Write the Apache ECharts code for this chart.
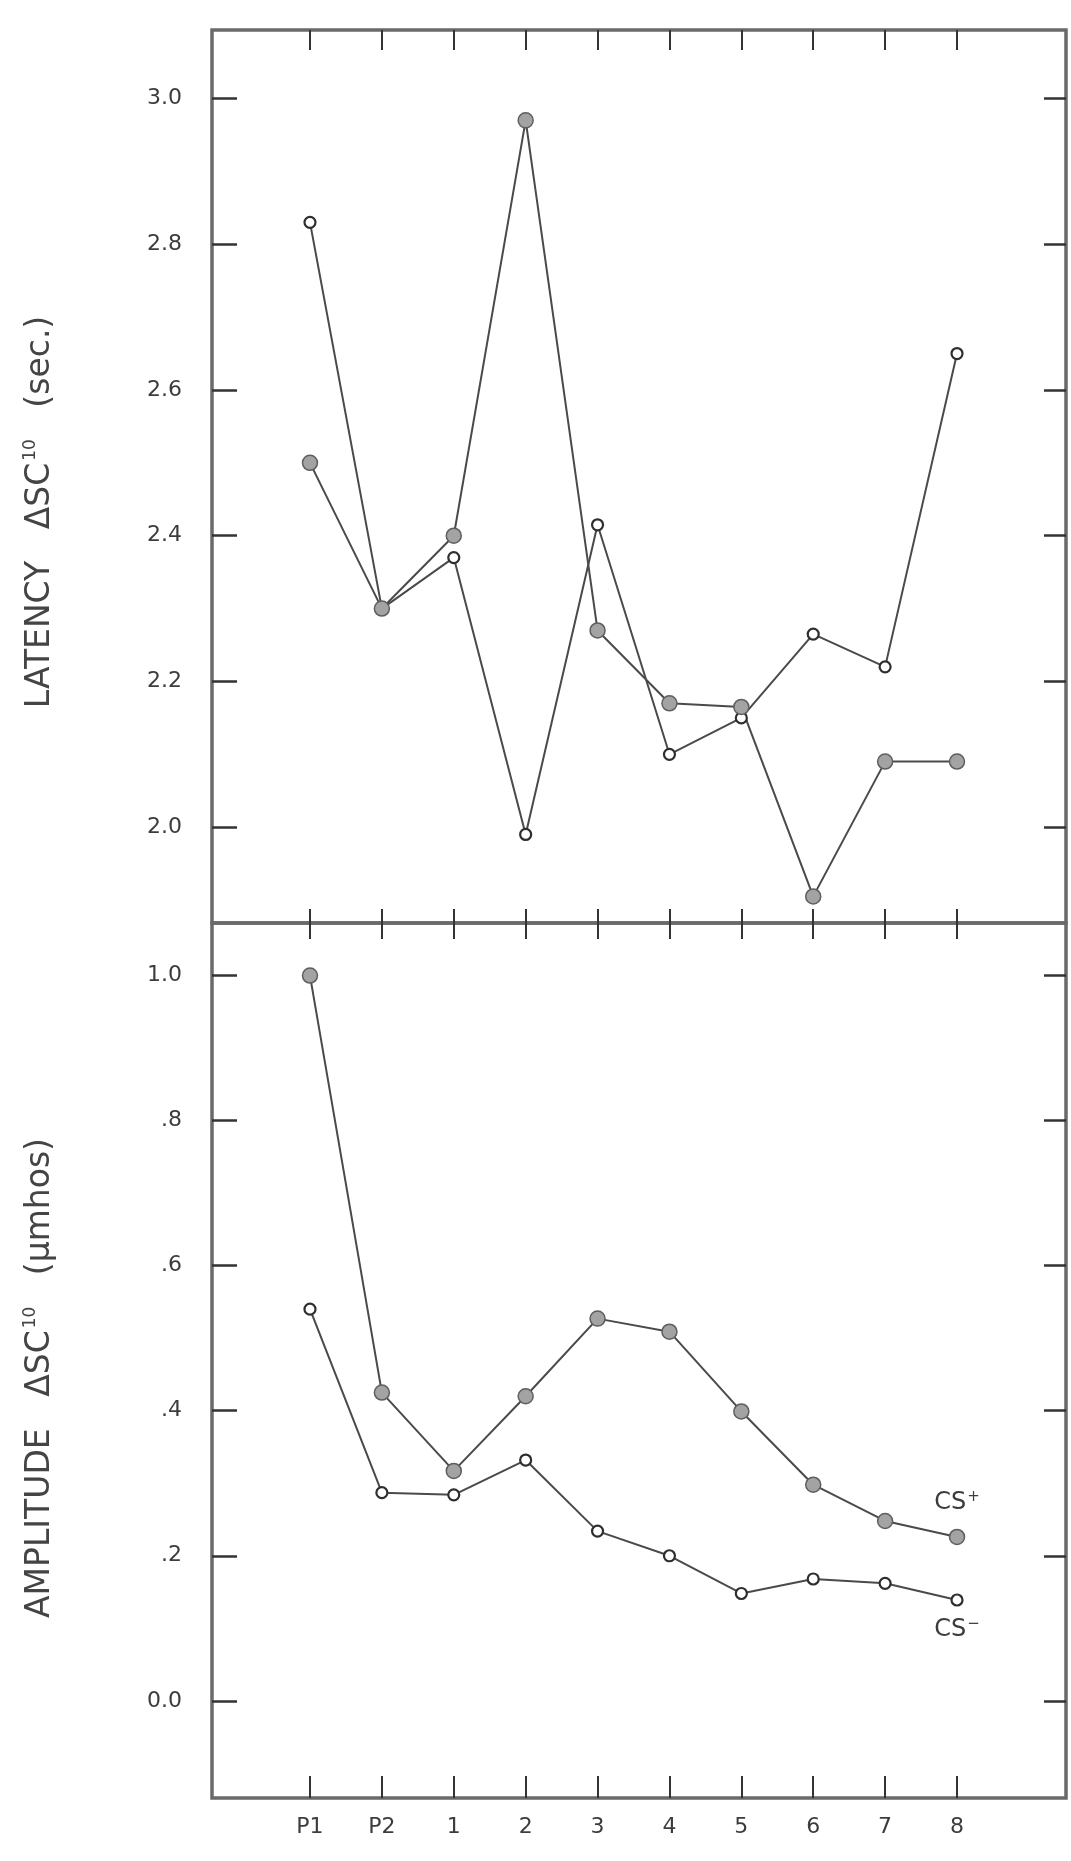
<!DOCTYPE html>
<html>
<head>
<meta charset="utf-8">
<script src="https://cdn.jsdelivr.net/npm/echarts@6/dist/echarts.min.js"></script>
<style>
    html, body {margin: 0; padding: 0; background: #fff;}
    #charts {width: 1071px; height: 1861px;}
</style>
</head>
<body>
<div id="charts"></div>
<script>
// trials on the x axis
const categories = ['P1', 'P2', '1', '2', '3', '4', '5', '6', '7', '8'];

// latency (sec.)
const latencyCSplus = [2.50, 2.30, 2.40, 2.97, 2.27, 2.17, 2.165, 1.905, 2.09, 2.09];
const latencyCSminus = [2.83, 2.30, 2.37, 1.99, 2.415, 2.10, 2.15, 2.265, 2.22, 2.65];

// amplitude (umhos)
const amplitudeCSplus = [1.00, 0.425, 0.317, 0.420, 0.527, 0.509, 0.399, 0.298, 0.248, 0.226];
const amplitudeCSminus = [0.540, 0.287, 0.284, 0.332, 0.234, 0.200, 0.148, 0.168, 0.162, 0.139];

const latencyTicks = [2.0, 2.2, 2.4, 2.6, 2.8, 3.0];
const amplitudeTicks = [0, 0.2, 0.4, 0.6, 0.8, 1.0];
const amplitudeTickLabels = ['0.0', '.2', '.4', '.6', '.8', '1.0'];

const FONT = 'DejaVu Sans';
const INK = '#3c3c3c';
const catIdx = categories.map((c, i) => i);
const xMin = -1.363, xMax = 10.516;

function xAxisDef(grid, pos, len, withLabels) {
    return {
        gridIndex: grid, type: 'value', position: pos, min: xMin, max: xMax,
        axisLine: {show: false, onZero: false},
        splitLine: {show: false},
        axisTick: {show: true, inside: true, length: len, customValues: catIdx,
            lineStyle: {color: '#333', width: 2}},
        axisLabel: withLabels ? {
            show: true, customValues: catIdx, margin: 18,
            formatter: v => categories[Math.round(v)],
            color: INK, fontFamily: FONT, fontSize: 22
        } : {show: false}
    };
}

function yAxisDef(grid, pos, min, max, ticks, fmt, len) {
    return {
        gridIndex: grid, type: 'value', position: pos, min: min, max: max,
        axisLine: {show: false, onZero: false},
        splitLine: {show: false},
        axisTick: {show: true, inside: true, length: len, customValues: ticks,
            lineStyle: {color: '#333', width: 2.5}},
        axisLabel: fmt ? {
            show: true, customValues: ticks, margin: 30, formatter: fmt,
            color: INK, fontFamily: FONT, fontSize: 22
        } : {show: false}
    };
}

const openStyle = {
    type: 'line', symbol: 'circle', symbolSize: 11,
    itemStyle: {color: '#fff', borderColor: '#2e2e2e', borderWidth: 2.2},
    lineStyle: {color: '#4a4a4a', width: 2}
};
const filledStyle = {
    type: 'line', symbol: 'circle', symbolSize: 15,
    itemStyle: {color: '#a3a3a3', borderColor: '#5e5e5e', borderWidth: 1.5},
    lineStyle: {color: '#4a4a4a', width: 2}
};

function pairs(vals, label) {
    return vals.map((v, i) => (label && i === vals.length - 1) ? {value: [i, v], label: label} : [i, v]);
}

const csRich = {
    b: {fontFamily: FONT, fontSize: 24, color: INK},
    s: {fontFamily: FONT, fontSize: 15, color: INK, verticalAlign: 'top', padding: [0, 0, 12, 1]}
};

const option = {
    animation: false,
    backgroundColor: '#fff',
    grid: [
        {left: 212, right: 5, top: 30, height: 893, show: true, borderColor: '#6a6a6a', borderWidth: 3.5},
        {left: 212, right: 5, top: 923, height: 875, show: true, borderColor: '#6a6a6a', borderWidth: 3.5}
    ],
    xAxis: [
        xAxisDef(0, 'bottom', 14, false),
        xAxisDef(0, 'top', 20, false),
        xAxisDef(1, 'bottom', 22, true),
        xAxisDef(1, 'top', 16, false)
    ],
    yAxis: [
        yAxisDef(0, 'left', 1.8685, 3.094, latencyTicks, v => v.toFixed(1), 25),
        yAxisDef(0, 'right', 1.8685, 3.094, latencyTicks, null, 22),
        yAxisDef(1, 'left', -0.134, 1.0725, amplitudeTicks,
            v => amplitudeTickLabels[Math.round(v * 5)], 25),
        yAxisDef(1, 'right', -0.134, 1.0725, amplitudeTicks, null, 22)
    ],
    series: [
        Object.assign({name: 'CS- latency', xAxisIndex: 0, yAxisIndex: 0,
            data: pairs(latencyCSminus)}, openStyle),
        Object.assign({name: 'CS+ latency', xAxisIndex: 0, yAxisIndex: 0,
            data: pairs(latencyCSplus)}, filledStyle),
        Object.assign({name: 'CS- amplitude', xAxisIndex: 2, yAxisIndex: 2,
            data: pairs(amplitudeCSminus, {show: true, position: 'bottom', distance: 10,
                formatter: '{b|CS}{s|\u2212}', rich: csRich})}, openStyle),
        Object.assign({name: 'CS+ amplitude', xAxisIndex: 2, yAxisIndex: 2,
            data: pairs(amplitudeCSplus, {show: true, position: 'top', distance: 12,
                formatter: '{b|CS}{s|+}', rich: csRich})}, filledStyle)
    ],
    graphic: [
        {
            type: 'text', x: 40, y: 512, rotation: Math.PI / 2,
            style: {
                text: '{t|LATENCY   \u0394SC}{s|10}{t|   (sec.)}',
                rich: {
                    t: {fontFamily: FONT, fontSize: 33, fill: '#444', color: '#444'},
                    s: {fontFamily: FONT, fontSize: 17, fill: '#444', color: '#444', verticalAlign: 'top', padding: [0, 0, 18, 2]}
                },
                textAlign: 'center', align: 'center',
                textVerticalAlign: 'middle', verticalAlign: 'middle'
            }
        },
        {
            type: 'text', x: 40, y: 1378, rotation: Math.PI / 2,
            style: {
                text: '{t|AMPLITUDE   \u0394SC}{s|10}{t|   (\u00b5mhos)}',
                rich: {
                    t: {fontFamily: FONT, fontSize: 33, fill: '#444', color: '#444'},
                    s: {fontFamily: FONT, fontSize: 17, fill: '#444', color: '#444', verticalAlign: 'top', padding: [0, 0, 18, 2]}
                },
                textAlign: 'center', align: 'center',
                textVerticalAlign: 'middle', verticalAlign: 'middle'
            }
        }
    ]
};

const chart = echarts.init(document.getElementById('charts'));
chart.setOption(option);
</script>
</body>
</html>
